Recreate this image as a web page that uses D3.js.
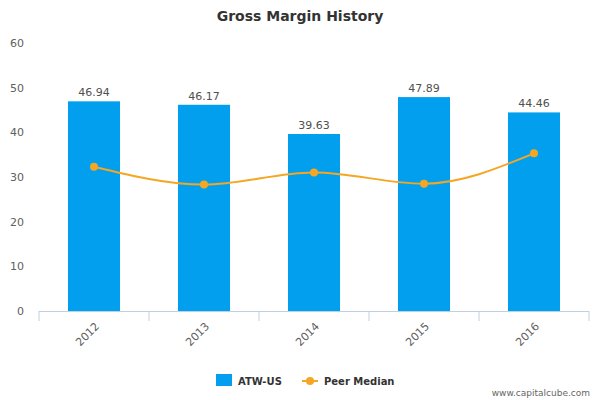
<!DOCTYPE html>
<html><head><meta charset="utf-8">
<script src="https://cdn.jsdelivr.net/npm/d3@7"></script>
<style>body{margin:0;background:#fff;font-family:"DejaVu Sans",Verdana,sans-serif}</style>
</head><body>
<svg id="c" width="600" height="400"></svg>
<script>
const years = ["2012","2013","2014","2015","2016"];
const atw = [46.94,46.17,39.63,47.89,44.46];
const peer = [32.3,28.3,31.0,28.5,35.3];
const yTicks = [0,10,20,30,40,50,60];

const svg = d3.select("#c");
const m = {l:39, r:589, t:43, b:311};
const x = d3.scaleBand().domain(years).range([m.l,m.r]).paddingInner(0.527).paddingOuter(0.2635);
const y = d3.scaleLinear().domain([0,60]).range([m.b,m.t]);

svg.append("text").attr("x",300).attr("y",21).attr("text-anchor","middle")
  .attr("font-size",14).attr("font-weight","bold").attr("fill","#333").text("Gross Margin History");

// y axis labels
svg.selectAll(".yt").data(yTicks).enter().append("text")
  .attr("x",24).attr("y",d=>y(d)+4).attr("text-anchor","end")
  .attr("font-size",11).attr("fill","#606060").text(d=>d);

// x axis line
svg.append("line").attr("x1",m.l).attr("x2",m.r).attr("y1",m.b+0.5).attr("y2",m.b+0.5).attr("stroke","#c0d0e0");
const edges = years.map((d,i)=>m.l+i*(m.r-m.l)/years.length).concat([m.r]);
svg.selectAll(".tk").data(edges).enter().append("line")
  .attr("x1",d=>d).attr("x2",d=>d).attr("y1",m.b).attr("y2",m.b+10).attr("stroke","#c0d0e0");

svg.selectAll(".bar").data(atw).enter().append("rect")
  .attr("x",(d,i)=>x(years[i])).attr("width",x.bandwidth())
  .attr("y",d=>y(d)).attr("height",d=>y(0)-y(d)).attr("fill","#039fef");

svg.selectAll(".bl").data(atw).enter().append("text")
  .attr("x",(d,i)=>x(years[i])+x.bandwidth()/2).attr("y",d=>y(d)-5)
  .attr("text-anchor","middle").attr("font-size",11).attr("fill","#505050").text(d=>d.toFixed(2));

const cx = (d,i)=>x(years[i])+x.bandwidth()/2;
const line = d3.line().x(cx).y(d=>y(d)).curve(d3.curveMonotoneX);
svg.append("path").datum(peer).attr("d",line).attr("fill","none").attr("stroke","#f5a623").attr("stroke-width",2);
svg.selectAll(".pt").data(peer).enter().append("circle")
  .attr("cx",cx).attr("cy",d=>y(d)).attr("r",4).attr("fill","#f5a623");

svg.selectAll(".xl").data(years).enter().append("text")
  .attr("transform",d=>`translate(${x(d)+x.bandwidth()/2+6},${m.b+16}) rotate(-45)`)
  .attr("text-anchor","end").attr("font-size",11).attr("fill","#606060").text(d=>d);

// legend
svg.append("rect").attr("x",216).attr("y",374).attr("width",16).attr("height",12).attr("fill","#039fef");
svg.append("text").attr("x",238).attr("y",385).attr("font-size",10).attr("font-weight","bold").attr("fill","#333").text("ATW-US");
svg.append("line").attr("x1",302).attr("x2",318).attr("y1",381).attr("y2",381).attr("stroke","#f5a623").attr("stroke-width",2);
svg.append("circle").attr("cx",310).attr("cy",381).attr("r",4).attr("fill","#f5a623");
svg.append("text").attr("x",324).attr("y",385).attr("font-size",10).attr("font-weight","bold").attr("fill","#333").text("Peer Median");
svg.append("text").attr("x",590).attr("y",396).attr("text-anchor","end").attr("font-size",9).attr("fill","#666").text("www.capitalcube.com");
</script>
</body></html>
